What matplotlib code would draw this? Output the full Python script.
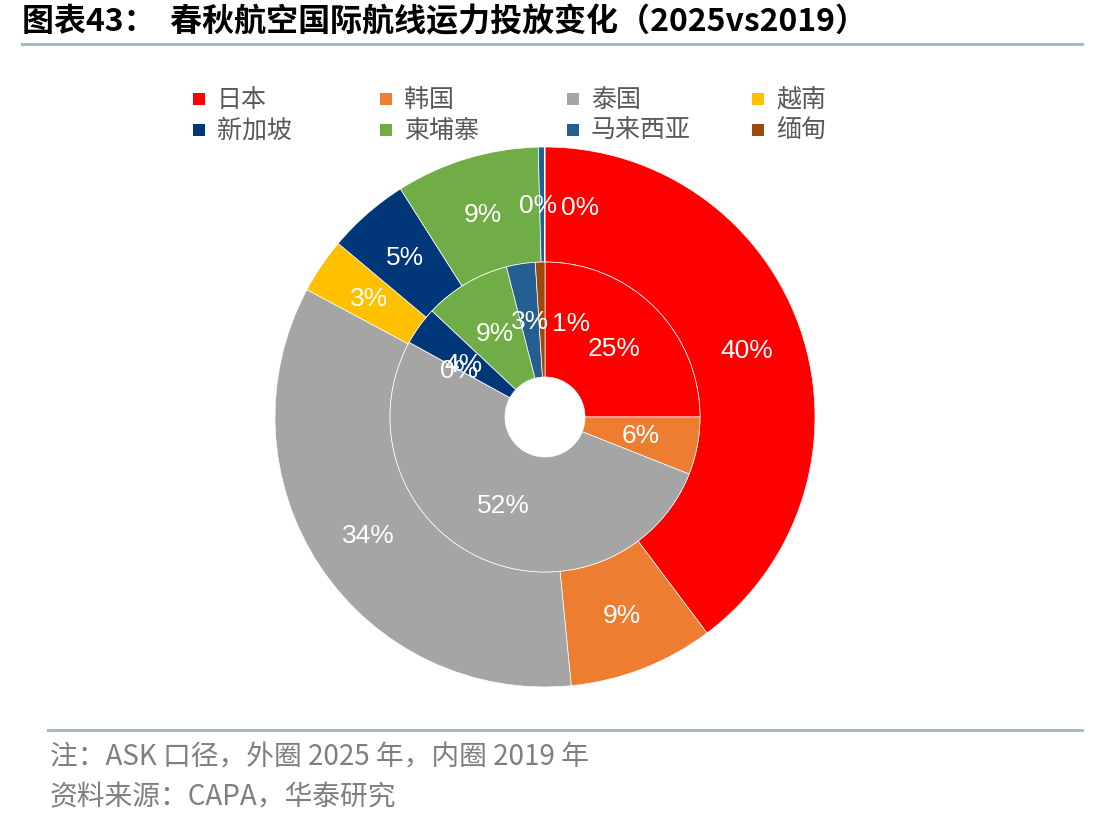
import math
import matplotlib
matplotlib.use("Agg")
import matplotlib.pyplot as plt
from matplotlib.patches import Rectangle

plt.rcParams['font.family'] = ['Noto Sans CJK SC', 'DejaVu Sans']

# data
countries = ["日本", "韩国", "泰国", "越南", "新加坡", "柬埔寨", "马来西亚", "缅甸"]
share_2025 = [39.8, 8.7, 34.4, 3.3, 4.9, 8.6, 0.36, 0.04]   # outer ring
share_2019 = [25, 6, 52, 0, 4, 9, 3, 1]                     # inner ring
colors = ["#FF0000", "#ED7D31", "#A5A5A5", "#FFC000",
          "#003778", "#70AD47", "#255E91", "#9E480E"]

title = "图表43：  春秋航空国际航线运力投放变化（2025vs2019）"
note = "注：ASK 口径，外圈 2025 年，内圈 2019 年"
source = "资料来源：CAPA，华泰研究"

W, H = 1112, 828
fig = plt.figure(figsize=(W / 100, H / 100), dpi=100)

# pie axes, centre at (545, 418) px, radius 270 px
R = 270
ax = fig.add_axes([(545 - R) / W, (H - 418 - R) / H, 2 * R / W, 2 * R / H])

r_in = 155 / R
hole = 40 / R
edge = dict(edgecolor="white", linewidth=0.5)
lab_font = dict(color="white", fontsize=19, family=["Liberation Sans", "DejaVu Sans"])

outer_wedges = ax.pie(share_2025, colors=colors, radius=1, startangle=90,
                      counterclock=False, wedgeprops=dict(width=1 - r_in, **edge))[0]
inner_wedges = ax.pie(share_2019, colors=colors, radius=r_in, startangle=90,
                      counterclock=False, wedgeprops=dict(width=r_in - hole, **edge))[0]


def put_labels(wedges, values, radius, nudges):
    # percentage label at the middle of each wedge, some nudged like the original
    for i, (w, v) in enumerate(zip(wedges, values)):
        ang = (w.theta1 + w.theta2) / 2 + nudges.get(i, 0)
        ax.text(radius * math.cos(math.radians(ang)), radius * math.sin(math.radians(ang)),
                f"{v:.0f}%", ha="center", va="center", **lab_font)


put_labels(outer_wedges, share_2025, (r_in + 1) / 2, {6: 1.0, 7: -9.5})
put_labels(inner_wedges, share_2019, (r_in + hole) / 2, {4: 3.0, 7: -17.5})

ax.set_xlim(-1, 1)
ax.set_ylim(-1, 1)
ax.set_aspect("equal")
ax.axis("off")

# legend, 2 rows x 4 columns
col_x = [193, 380, 567, 752]
row_y = [100, 131]
for i, (name, c) in enumerate(zip(countries, colors)):
    x = col_x[i % 4]
    y = row_y[i // 4]
    fig.add_artist(Rectangle((x / W, (H - y - 6) / H), 12 / W, 12 / H,
                             facecolor=c, edgecolor="none", transform=fig.transFigure))
    fig.text((x + 24) / W, (H - y) / H, name, fontsize=18, color="#595959",
             va="center", ha="left")

# title and rules
fig.text(22 / W, (H - 22) / H, title, fontsize=23, fontweight="bold",
         color="black", va="center", ha="left")
fig.add_artist(plt.Line2D([22 / W, 1082 / W], [(H - 45) / H] * 2,
                          color="#A6B8CF", linewidth=2.2, transform=fig.transFigure))
fig.add_artist(plt.Line2D([48 / W, 1082 / W], [(H - 731) / H] * 2,
                          color="#A6B8CF", linewidth=2.2, transform=fig.transFigure))

fig.text(50 / W, (H - 757) / H, note, fontsize=20, color="#7F7F7F",
         va="center", ha="left")
fig.text(50 / W, (H - 797) / H, source, fontsize=20, color="#7F7F7F",
         va="center", ha="left")

fig.savefig("out.png", dpi=100)
